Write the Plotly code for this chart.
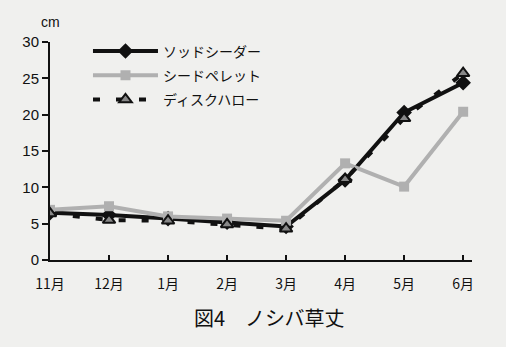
import plotly.graph_objects as go

months = ["11月", "12月", "1月", "2月", "3月", "4月", "5月", "6月"]
sod_seeder = [6.5, 6.2, 5.7, 5.2, 4.6, 11.0, 20.3, 24.4]
seed_pellet = [6.9, 7.4, 6.0, 5.7, 5.4, 13.3, 10.1, 20.4]
disk_harrow = [6.4, 5.5, 5.4, 4.9, 4.3, 11.1, 19.5, 25.7]
y_ticks = [0, 5, 10, 15, 20, 25, 30]

xpos = list(range(len(months)))
font_main = "Liberation Sans, Arial, Noto Sans CJK JP"

fig = go.Figure()
fig.add_trace(go.Scatter(
    x=xpos, y=sod_seeder, name="ソッドシーダー", mode="lines+markers",
    line=dict(color="#111111", width=4),
    marker=dict(symbol="diamond", size=12, color="#111111"),
    legendgroup="a"))
fig.add_trace(go.Scatter(
    x=xpos, y=seed_pellet, name="シードペレット", mode="lines+markers",
    line=dict(color="#b0b0b0", width=4),
    marker=dict(symbol="square", size=10, color="#b0b0b0"),
    legendgroup="b"))
fig.add_trace(go.Scatter(
    x=xpos, y=disk_harrow, name="ディスクハロー", mode="lines+markers",
    line=dict(color="#111111", width=4, dash="7px,16px"),
    marker=dict(symbol="triangle-up", size=11, color="#888888",
                line=dict(color="#111111", width=2)),
    legendgroup="c"))

fig.update_layout(
    width=506, height=347,
    margin=dict(l=50, r=34, t=42, b=87),
    paper_bgcolor="#f0f0ee", plot_bgcolor="#f0f0ee",
    font=dict(family=font_main, size=13, color="#111111"),
    showlegend=True,
    legend=dict(x=0.09, y=1.03, xanchor="left", yanchor="top",
                bgcolor="rgba(0,0,0,0)", font=dict(size=14, family="Noto Sans CJK JP"),
                itemwidth=65, tracegroupgap=3),
    xaxis=dict(range=[0, 7.15], tickvals=xpos, ticktext=months,
               showline=True, linecolor="#111111", linewidth=2,
               ticks="inside", ticklen=5, tickwidth=1.5, tickcolor="#111111",
               showgrid=False, zeroline=False, ticklabelstandoff=10,
               tickfont=dict(family="Noto Sans CJK JP", size=14)),
    yaxis=dict(range=[0, 30], tickvals=y_ticks,
               showline=True, linecolor="#111111", linewidth=2,
               ticks="outside", ticklen=6, tickwidth=1.5, tickcolor="#111111",
               showgrid=False, zeroline=False,
               tickfont=dict(size=15)),
    annotations=[
        dict(text="cm", xref="paper", yref="paper", x=0.0, y=1.092,
             xanchor="center", yanchor="middle", showarrow=False,
             font=dict(size=14)),
        dict(text="図4　ノシバ草丈", xref="paper", yref="paper", x=0.521, y=-0.266,
             xanchor="center", yanchor="middle", showarrow=False,
             font=dict(size=20, family="Noto Sans CJK JP")),
    ],
)

fig.write_html("out.html")
